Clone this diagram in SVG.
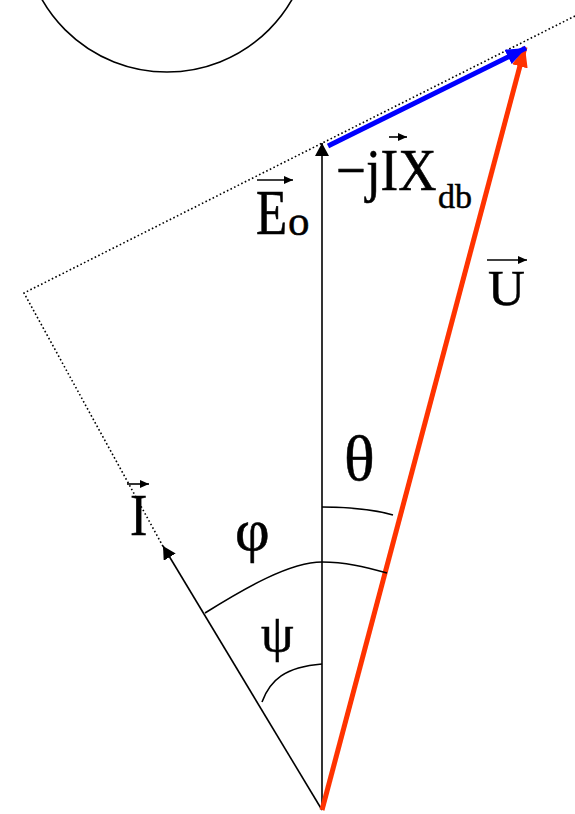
<svg xmlns="http://www.w3.org/2000/svg" width="575" height="814" viewBox="0 0 575 814">
<style>
.t{font-family:"Liberation Serif","Times New Roman",serif;fill:#000;stroke:#000;stroke-width:0.5}
.ln{fill:none;stroke:#000;stroke-width:1.6}
.dot{fill:none;stroke:#000;stroke-width:1.6;stroke-dasharray:1.6 2.4}
.arc{fill:none;stroke:#000;stroke-width:1.6}
.lab{fill:none;stroke:#000;stroke-width:1.6}
</style>
<defs>
<marker id="ah" markerWidth="14" markerHeight="14" refX="13" refY="7" orient="auto" markerUnits="userSpaceOnUse"><path d="M0,0 L13,7 L0,14 Z" fill="#000"/></marker>
<marker id="sa" markerWidth="10" markerHeight="8" refX="9" refY="4" orient="auto" markerUnits="userSpaceOnUse"><path d="M0,0 L9,4 L0,8 Z" fill="#000"/></marker>
<marker id="ahb" markerWidth="22" markerHeight="16" refX="20" refY="8" orient="auto" markerUnits="userSpaceOnUse"><path d="M0,0 L20,8 L0,16 Z" fill="#0000ff"/></marker>
<marker id="ahr" markerWidth="22" markerHeight="16" refX="20" refY="8" orient="auto" markerUnits="userSpaceOnUse"><path d="M0,0 L20,8 L0,16 Z" fill="#ff3300"/></marker>
</defs>
<rect width="575" height="814" fill="#fff"/>
<g id="circle"><circle cx="167" cy="-72" r="144" class="ln"/></g>
<g id="connectors">
<path class="dot" d="M575,16 L24,293 L165,550"/>
<path class="ln" d="M322,810 L322,143" marker-end="url(#ah)"/>
<path class="ln" d="M322,810 L163,546" marker-end="url(#ah)"/>
<path d="M322,810 L525,47" stroke="#ff3300" stroke-width="5" fill="none" marker-end="url(#ahr)"/>
<path d="M328,146 L526,48" stroke="#0000ff" stroke-width="5" fill="none" marker-end="url(#ahb)"/>
</g>
<g id="angles">
<path class="arc" d="M322,507 C350,507 372,509 393,515"/>
<path class="arc" d="M205,613 C245,588 290,562 322,562 C345,562 365,567 387,573"/>
<path class="arc" d="M262,702 C270,680 285,667 322,664"/>
</g>
<g id="label-E">
<path class="lab" d="M257,180 L293,180" marker-end="url(#sa)"/>
<text class="t" font-size="51" transform="translate(256,234) scale(1,1.24)">E</text>
<text class="t" x="288" y="235" font-size="43">o</text>
</g>
<g id="label-jIX">
<path class="lab" d="M389,137 L407,137" marker-end="url(#sa)"/>
<text class="t" font-size="53" transform="translate(336,190) scale(1,1.1)">−jIX</text>
<text class="t" x="438" y="208" font-size="34">db</text>
</g>
<g id="label-U">
<path class="lab" d="M487,260 L527,260" marker-end="url(#sa)"/>
<text class="t" x="488" y="305" font-size="51">U</text>
</g>
<g id="label-I">
<path class="lab" d="M127,484 L149,484" marker-end="url(#sa)"/>
<text class="t" font-size="52" transform="translate(130,535) scale(1,1.12)">I</text>
</g>
<g id="label-theta"><text class="t" x="344" y="480" font-size="64">θ</text></g>
<g id="label-phi"><text class="t" x="235" y="550" font-size="60">φ</text></g>
<g id="label-psi"><text class="t" x="261" y="651" font-size="52">ψ</text></g>
</svg>
